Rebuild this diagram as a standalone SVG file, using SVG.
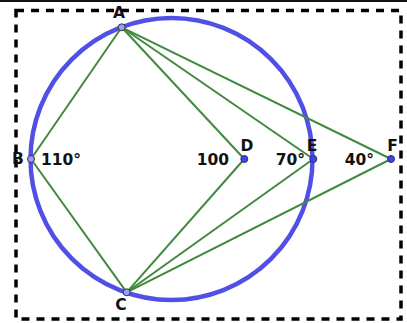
<svg xmlns="http://www.w3.org/2000/svg" width="407" height="323" viewBox="0 0 407 323">
<style>
.lbl{font-family:"DejaVu Sans",sans-serif;font-weight:bold;font-size:15.5px;fill:#111}
.seg{stroke:#3f8a3f;stroke-width:2;fill:none}
.frame{fill:none;stroke:#000;stroke-width:3.5;stroke-dasharray:8 7}
.pA{fill:#9a9aff;stroke:#333;stroke-width:1}
.pD{fill:#4343e6;stroke:#2a2a8a;stroke-width:1}
</style>
<rect x="0" y="0" width="407" height="323" fill="#fff"/>
<rect x="0" y="0" width="407" height="2" fill="#111"/>
<rect class="frame" x="16" y="10.5" width="385" height="308.5"/>
<circle id="circle" cx="171.5" cy="159" r="141" fill="none" stroke="#5050e6" stroke-width="4.5"/>
<g id="connectors">
<line class="seg" x1="121.7" y1="27.3" x2="31" y2="159"/>
<line class="seg" x1="31" y1="159" x2="126.7" y2="292.3"/>
<line class="seg" x1="121.7" y1="27.3" x2="244.3" y2="159"/>
<line class="seg" x1="244.3" y1="159" x2="126.7" y2="292.3"/>
<line class="seg" x1="121.7" y1="27.3" x2="313.3" y2="159"/>
<line class="seg" x1="313.3" y1="159" x2="126.7" y2="292.3"/>
<line class="seg" x1="121.7" y1="27.3" x2="391" y2="159"/>
<line class="seg" x1="391" y1="159" x2="126.7" y2="292.3"/>
</g>
<g id="A"><circle class="pA" cx="121.7" cy="27.3" r="3.5"/><text class="lbl" x="119" y="18" text-anchor="middle">A</text></g>
<g id="B"><circle class="pA" cx="31" cy="159" r="3.5"/><text class="lbl" x="18" y="164" text-anchor="middle">B</text><text class="lbl" x="41" y="165">110°</text></g>
<g id="C"><circle class="pA" cx="126.7" cy="292.3" r="3.5"/><text class="lbl" x="121" y="310" text-anchor="middle">C</text></g>
<g id="D"><circle class="pD" cx="244.3" cy="159" r="3.5"/><text class="lbl" x="247" y="151" text-anchor="middle">D</text><text class="lbl" x="229" y="165" text-anchor="end">100</text></g>
<g id="E"><circle class="pD" cx="313.3" cy="159" r="3.5"/><text class="lbl" x="312" y="151" text-anchor="middle">E</text><text class="lbl" x="305" y="165" text-anchor="end">70°</text></g>
<g id="F"><circle class="pD" cx="391" cy="159" r="3.5"/><text class="lbl" x="392.5" y="151" text-anchor="middle">F</text><text class="lbl" x="374" y="165" text-anchor="end">40°</text></g>
</svg>
